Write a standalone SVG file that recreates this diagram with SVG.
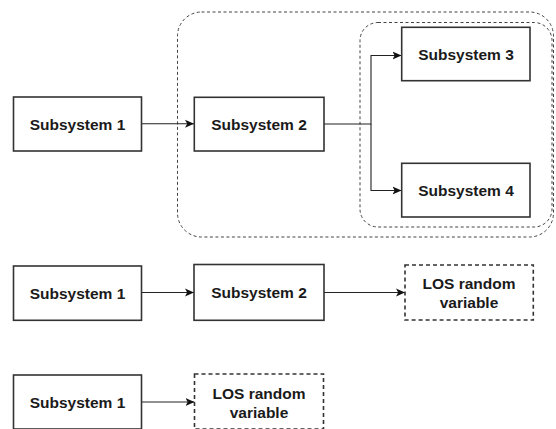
<svg xmlns="http://www.w3.org/2000/svg" width="556" height="429" viewBox="0 0 556 429">
<style>
.box{fill:#fff;stroke:#333;stroke-width:1.6}
.dbox{fill:#fff;stroke:#333;stroke-width:1.6;stroke-dasharray:4 3}
.grp{fill:none;stroke:#444;stroke-width:1;stroke-dasharray:3 2.5}
.lbl{font-family:"Liberation Sans",Arial,sans-serif;font-weight:bold;font-size:15.5px;fill:#1a1a1a;text-anchor:middle}
.c{fill:none;stroke:#222;stroke-width:1.1}
</style>
<defs>
<marker id="ah" markerUnits="userSpaceOnUse" markerWidth="11" markerHeight="10" refX="9" refY="4.5" orient="auto" viewBox="0 0 11 9">
<path d="M0,0.5 L9,4.5 L0,8.5 L2.2,4.5 z" fill="#111"/>
</marker>
</defs>
<g id="containers">
<rect class="grp" x="177.5" y="12" width="376" height="225" rx="24" ry="24"/>
<rect class="grp" x="360" y="22.5" width="192" height="204.5" rx="18" ry="18"/>
</g>
<g id="connectors">
<line class="c" x1="141.5" y1="123.8" x2="194" y2="123.8" marker-end="url(#ah)"/>
<polyline class="c" points="324,124 371,124 371,55.5 401.5,55.5" marker-end="url(#ah)"/>
<polyline class="c" points="371,124 371,190.5 401.5,190.5" marker-end="url(#ah)"/>
<line class="c" x1="141.5" y1="292.5" x2="194" y2="292.5" marker-end="url(#ah)"/>
<line class="c" x1="324" y1="292.5" x2="405" y2="292.5" marker-end="url(#ah)"/>
<line class="c" x1="141.5" y1="402" x2="194.5" y2="402" marker-end="url(#ah)"/>
</g>
<g id="r1-sub1"><rect class="box" x="13.5" y="97" width="128" height="54"/><text class="lbl" x="77.5" y="129.5">Subsystem 1</text></g>
<g id="r1-sub2"><rect class="box" x="194.3" y="97.3" width="129.7" height="53.7"/><text class="lbl" x="259" y="129.5">Subsystem 2</text></g>
<g id="r1-sub3"><rect class="box" x="401.7" y="27.3" width="128.3" height="53.4"/><text class="lbl" x="466" y="59.5">Subsystem 3</text></g>
<g id="r1-sub4"><rect class="box" x="401.7" y="163.3" width="128.3" height="53.7"/><text class="lbl" x="466" y="195.5">Subsystem 4</text></g>
<g id="r2-sub1"><rect class="box" x="13.5" y="266" width="128" height="54.3"/><text class="lbl" x="77.5" y="298.5">Subsystem 1</text></g>
<g id="r2-sub2"><rect class="box" x="194" y="264.5" width="130" height="55.8"/><text class="lbl" x="259" y="298">Subsystem 2</text></g>
<g id="r2-los"><rect class="dbox" x="405" y="265" width="128.3" height="55"/><text class="lbl" x="469" y="288.5">LOS random</text><text class="lbl" x="469" y="308">variable</text></g>
<g id="r3-sub1"><rect class="box" x="13.5" y="375" width="128" height="54"/><text class="lbl" x="77.5" y="408">Subsystem 1</text></g>
<g id="r3-los"><rect class="dbox" x="194.5" y="374" width="129" height="55"/><text class="lbl" x="259" y="398.5">LOS random</text><text class="lbl" x="259" y="417.5">variable</text></g>
</svg>
